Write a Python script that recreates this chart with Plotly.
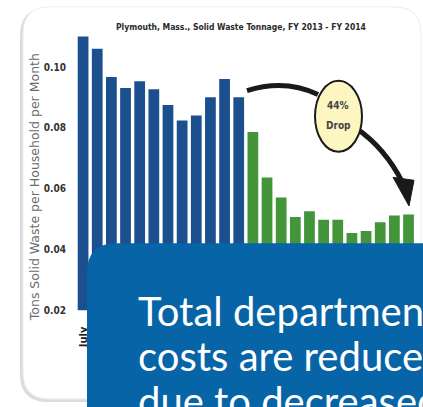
import plotly.graph_objects as go

# Monthly solid waste per household (tons), fiscal year July-June
months = ["July", "Aug", "Sept", "Oct", "Nov", "Dec",
          "Jan", "Feb", "Mar", "Apr", "May", "June"]
fy2013 = [0.110, 0.106, 0.0967, 0.0931, 0.0953, 0.0927,
          0.0875, 0.0824, 0.0841, 0.0901, 0.0961, 0.0901]
fy2014 = [0.0786, 0.0637, 0.0571, 0.0507, 0.0526, 0.0498,
          0.0498, 0.0454, 0.0461, 0.0490, 0.0512, 0.0515]
y_ticks = [0.02, 0.04, 0.06, 0.08, 0.10]
y_ticktext = ["0.02", "0.04", "0.06", "0.08", "0.10"]

title_text = "Plymouth, Mass., Solid Waste Tonnage, FY 2013 - FY 2014"
y_title = "Tons Solid Waste per Household per Month"
drop_text = ["44%", "Drop"]
callout_lines = ["Total department", "costs are reduced", "due to decreased"]

W, H = 423, 407
BLUE = "#1c4f8e"
GREEN = "#44953a"
NARROW = "DejaVu Sans Condensed, Liberation Sans Narrow, Liberation Sans, sans-serif"


def px(x):
    return x / W


def py(y):
    return 1 - y / H


def rounded_rect(x0, y0, x1, y1, r):
    """SVG path (paper coords) for a rounded rectangle given in pixels."""
    pts = [
        f"M{px(x0 + r)},{py(y0)}",
        f"L{px(x1 - r)},{py(y0)}",
        f"Q{px(x1)},{py(y0)} {px(x1)},{py(y0 + r)}",
        f"L{px(x1)},{py(y1 - r)}",
        f"Q{px(x1)},{py(y1)} {px(x1 - r)},{py(y1)}",
        f"L{px(x0 + r)},{py(y1)}",
        f"Q{px(x0)},{py(y1)} {px(x0)},{py(y1 - r)}",
        f"L{px(x0)},{py(y0 + r)}",
        f"Q{px(x0)},{py(y0)} {px(x0 + r)},{py(y0)}",
        "Z",
    ]
    return " ".join(pts)


n13 = len(fy2013)
x13 = list(range(n13))
x14 = list(range(n13, n13 + len(fy2014)))

fig = go.Figure()
fig.add_trace(go.Bar(x=x13, y=fy2013, marker=dict(color=BLUE, line=dict(width=0)),
                     base=0, showlegend=False))
fig.add_trace(go.Bar(x=x14, y=fy2014, marker=dict(color=GREEN, line=dict(width=0)),
                     base=0, showlegend=False))

shapes = []
# card with a soft shadow
shapes.append(dict(type="path", xref="paper", yref="paper", layer="below",
                   path=rounded_rect(20, 8, 421, 408, 28),
                   fillcolor="#dcdcdc", line=dict(width=0)))
shapes.append(dict(type="path", xref="paper", yref="paper", layer="below",
                   path=rounded_rect(23, 7, 421, 405, 27),
                   fillcolor="white", line=dict(color="#ececec", width=1)))

# curved arrow around the "44% Drop" bubble
shapes.append(dict(type="path", xref="paper", yref="paper", layer="above",
                   path=(f"M{px(247)},{py(92)} Q{px(285)},{py(80)} {px(318)},{py(96)}"),
                   line=dict(color="#1a1a1a", width=5)))
shapes.append(dict(type="path", xref="paper", yref="paper", layer="above",
                   path=(f"M{px(356)},{py(130)} Q{px(385)},{py(150)} {px(403)},{py(186)}"),
                   line=dict(color="#1a1a1a", width=5)))
shapes.append(dict(type="path", xref="paper", yref="paper", layer="above",
                   path=(f"M{px(393)},{py(180)} L{px(414)},{py(183)} L{px(409)},{py(209)} Z"),
                   fillcolor="#1a1a1a", line=dict(color="#1a1a1a", width=1)))
shapes.append(dict(type="circle", xref="paper", yref="paper", layer="above",
                   x0=px(315), x1=px(362), y0=py(82), y1=py(154),
                   fillcolor="#fdf6c0", line=dict(color="#1a1a1a", width=2)))

# blue callout box
shapes.append(dict(type="path", xref="paper", yref="paper", layer="above",
                   path=rounded_rect(87, 247, 470, 460, 30),
                   fillcolor="#0764a7", line=dict(width=0)))

annotations = [
    dict(text=title_text, xref="paper", yref="paper", x=px(241), y=py(27),
         xanchor="center", yanchor="middle", showarrow=False,
         font=dict(family=NARROW, size=8.5, color="#2a2a2a", weight="bold")),
    dict(text=y_title, xref="paper", yref="paper", x=px(34), y=py(190), textangle=-90,
         xanchor="center", yanchor="middle", showarrow=False,
         font=dict(family="DejaVu Sans", size=12.5, color="#6a6a6a")),
    dict(text=drop_text[0], xref="paper", yref="paper", x=px(338), y=py(107),
         xanchor="center", yanchor="middle", showarrow=False,
         font=dict(family=NARROW, size=10, color="#444444", weight="bold")),
    dict(text=drop_text[1], xref="paper", yref="paper", x=px(338), y=py(127),
         xanchor="center", yanchor="middle", showarrow=False,
         font=dict(family=NARROW, size=10, color="#444444", weight="bold")),
]
for i, line in enumerate(callout_lines):
    annotations.append(dict(text=line, xref="paper", yref="paper",
                            x=px(136), y=py(289 + 46 * i), xanchor="left", yanchor="top",
                            showarrow=False,
                            font=dict(family="Lato", size=40, color="white")))

fig.update_layout(
    width=W, height=H,
    margin=dict(l=0, r=0, t=0, b=0),
    paper_bgcolor="white", plot_bgcolor="rgba(0,0,0,0)",
    bargap=0.24,
    shapes=shapes, annotations=annotations,
    xaxis=dict(domain=[px(76), px(415.6)], range=[-0.5, 23.5],
               tickvals=x13 + x14, ticktext=months + months, tickangle=-90,
               showgrid=False, zeroline=False, showline=False,
               ticks="", ticklabelstandoff=13,
               tickfont=dict(family=NARROW, size=11, color="#222222", weight="bold")),
    yaxis=dict(domain=[1 - 315 / H, 1 - 31 / H], range=[0.02, 0.112],
               tickvals=y_ticks, ticktext=y_ticktext,
               showgrid=False, zeroline=False, showline=False,
               ticks="", ticklabelstandoff=9,
               tickfont=dict(family=NARROW, size=10, color="#333333", weight="bold")),
)

fig.write_html("out.html")
